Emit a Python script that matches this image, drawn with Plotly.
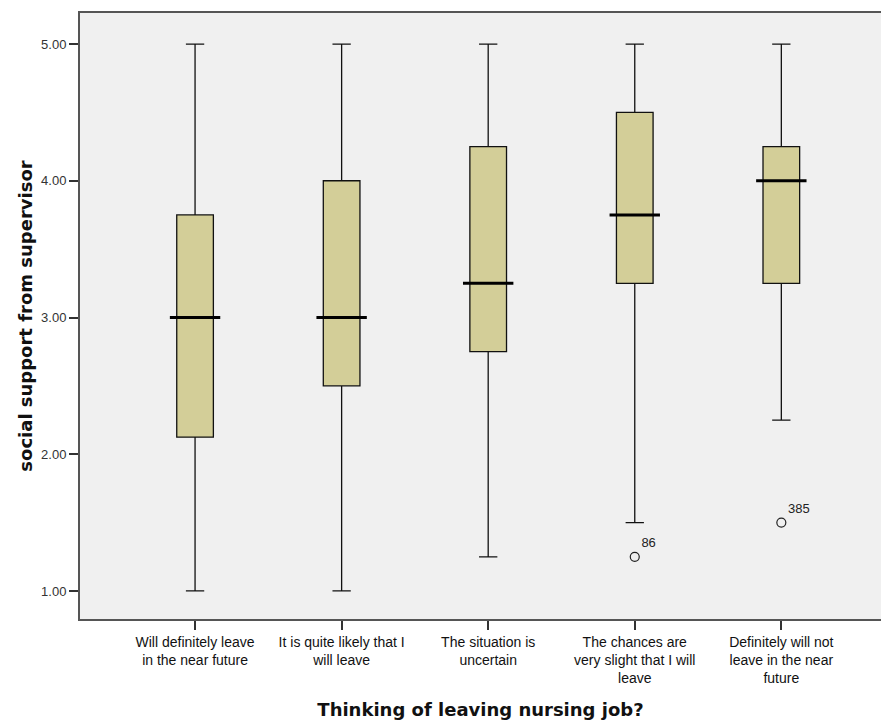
import plotly.graph_objects as go

categories = [
    "Will definitely leave<br>in the near future",
    "It is quite likely that I<br>will leave",
    "The situation is<br>uncertain",
    "The chances are<br>very slight that I will<br>leave",
    "Definitely will not<br>leave in the near<br>future",
]
lower_whisker = [1.00, 1.00, 1.25, 1.50, 2.25]
q1 = [2.125, 2.50, 2.75, 3.25, 3.25]
median = [3.00, 3.00, 3.25, 3.75, 4.00]
q3 = [3.75, 4.00, 4.25, 4.50, 4.25]
upper_whisker = [5.00, 5.00, 5.00, 5.00, 5.00]

outlier_group = [3, 4]
outlier_value = [1.25, 1.50]
outlier_label = ["86", "385"]

y_ticks = [1.0, 2.0, 3.0, 4.0, 5.0]

pos = list(range(len(categories)))
BOX_W = 0.25
FILL = "#D3CE98"

fig = go.Figure()
fig.add_trace(go.Box(
    x=pos, q1=q1, median=median, q3=q3,
    lowerfence=lower_whisker, upperfence=upper_whisker,
    width=BOX_W, whiskerwidth=0.5,
    fillcolor=FILL, line=dict(color="#111111", width=1.3),
    boxpoints=False, hoverinfo="skip", showlegend=False,
))
# thick median bars
fig.add_trace(go.Scatter(
    x=pos, y=median, mode="markers",
    marker=dict(symbol="line-ew-open", size=36, color="#000000",
                line=dict(color="#000000", width=3)),
    hoverinfo="skip", showlegend=False,
))
# outliers
fig.add_trace(go.Scatter(
    x=outlier_group, y=outlier_value, mode="markers+text",
    text=outlier_label, textposition="top right",
    textfont=dict(family="Liberation Sans, Arial, sans-serif", size=13, color="#222222"),
    marker=dict(symbol="circle-open", size=9, color="#222222", line=dict(width=1.2)),
    hoverinfo="skip", showlegend=False,
))

fig.update_layout(
    width=881, height=720,
    margin=dict(l=80, r=0, t=13, b=101),
    paper_bgcolor="white", plot_bgcolor="#F0F0F0",
    font=dict(family="Liberation Sans, Arial, sans-serif", color="#222222"),
)
fig.update_xaxes(
    range=[-0.785, 4.68], tickvals=pos, ticktext=categories,
    tickfont=dict(family="Liberation Sans, Arial, sans-serif", size=14, color="#111111"),
    ticks="outside", ticklen=9, tickcolor="#333333", tickwidth=1.5,
    showline=True, linecolor="#555555", linewidth=2, mirror=True,
    showgrid=False, zeroline=False,
    title=dict(text="<b>Thinking of leaving nursing job?</b>",
               font=dict(family="DejaVu Sans, sans-serif", size=18, color="#111111"),
               standoff=20),
)
fig.update_yaxes(
    range=[0.795, 5.227], tickvals=y_ticks, ticktext=[f"{v:.2f}" for v in y_ticks],
    tickfont=dict(size=13, color="#333333"),
    ticks="outside", ticklen=9, tickcolor="#333333", tickwidth=1.5,
    showline=True, linecolor="#555555", linewidth=2, mirror=False,
    showgrid=False, zeroline=False,
    title=dict(text="<b>social support from supervisor</b>",
               font=dict(family="DejaVu Sans, sans-serif", size=18, color="#111111"),
               standoff=4),
)

fig.write_html("out.html")
